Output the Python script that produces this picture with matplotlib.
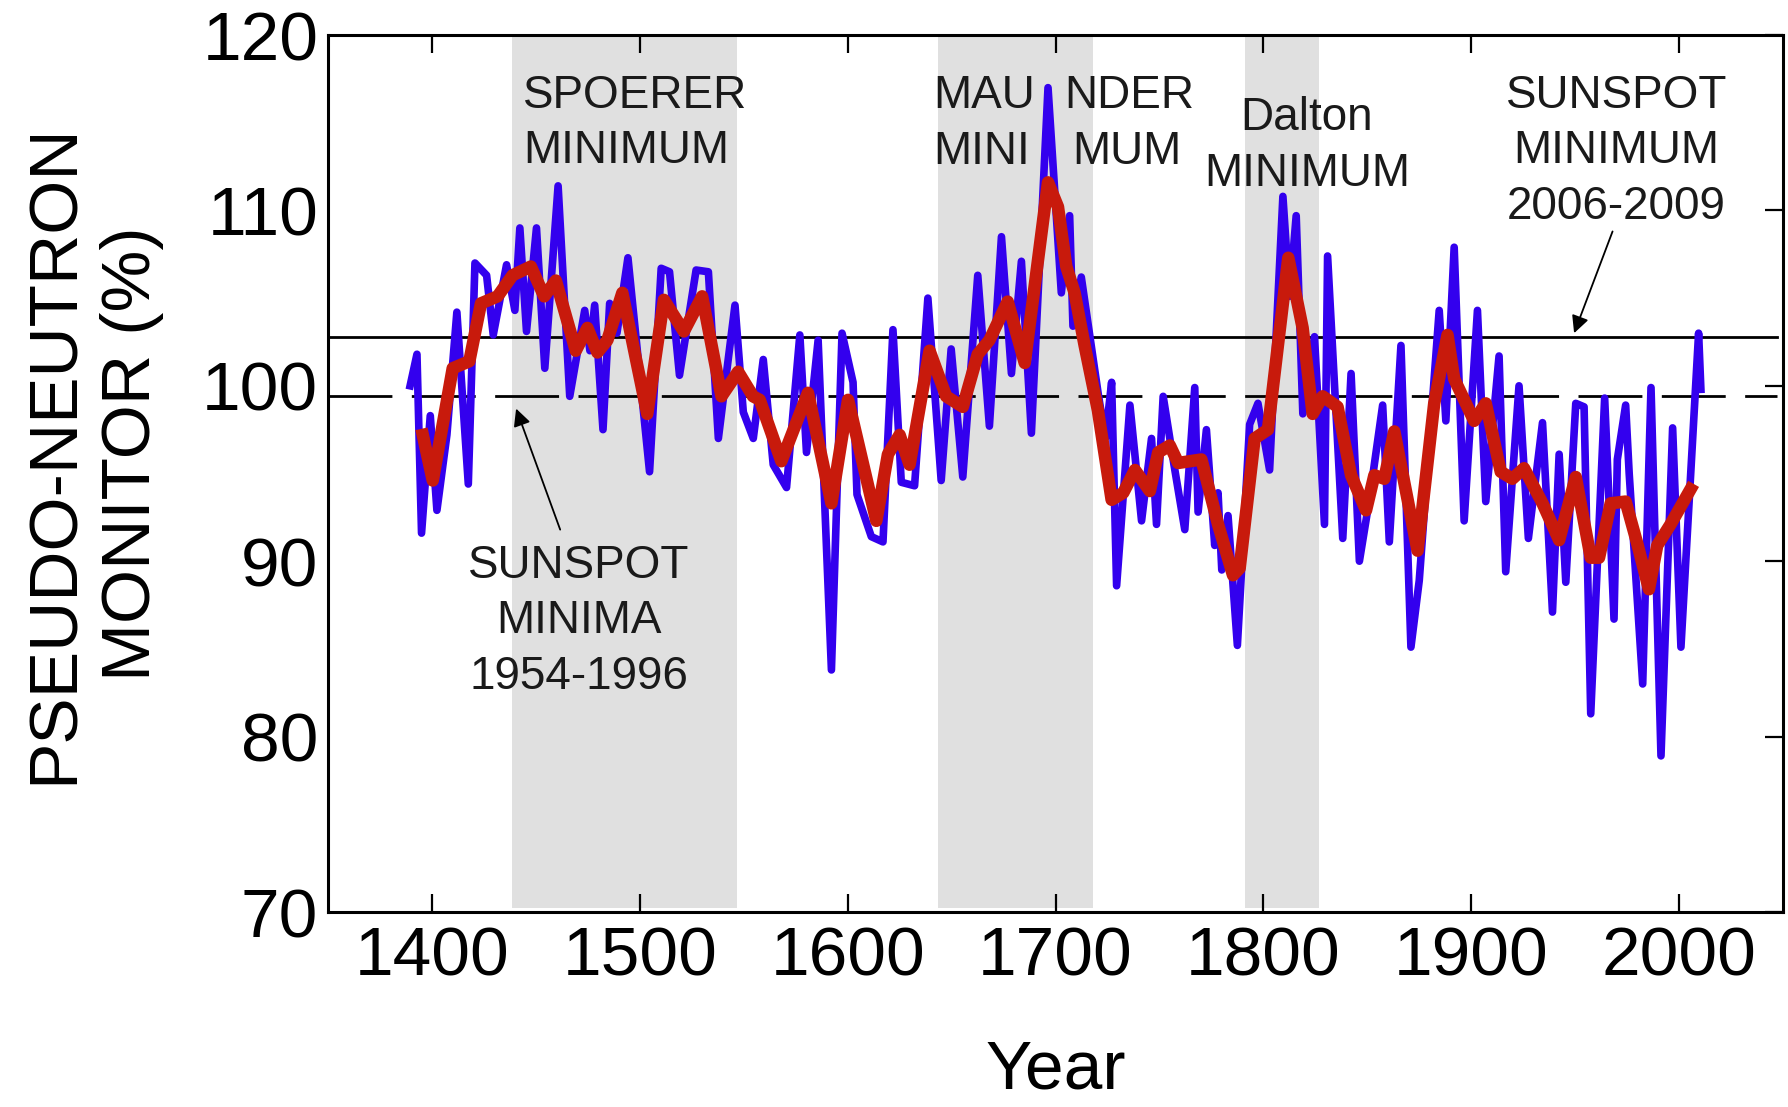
import matplotlib
matplotlib.use('Agg')
import matplotlib.pyplot as plt

plt.rcParams['font.family'] = ['Liberation Sans', 'DejaVu Sans']

# pseudo neutron monitor record (blue) and its smoothed version (red)
blue_year = [1389.5, 1392.8, 1395.0, 1399.2, 1402.4, 1407.2, 1412.0, 1417.5, 1420.7, 1426.3,
             1429.5, 1435.9, 1439.9, 1442.3, 1445.5, 1450.3, 1454.3, 1460.7, 1466.3, 1473.5,
             1476.0, 1478.3, 1482.3, 1485.5, 1489.0, 1494.3, 1504.7, 1510.3, 1514.3, 1519.1,
             1527.1, 1533.0, 1537.8, 1545.8, 1549.8, 1554.6, 1559.4, 1564.2, 1570.6, 1577.0,
             1580.2, 1585.8, 1592.2, 1597.3, 1602.6, 1604.5, 1611.4, 1617.0, 1621.8, 1625.8,
             1632.2, 1638.6, 1645.0, 1649.8, 1655.4, 1662.6, 1668.2, 1674.0, 1678.8, 1683.6,
             1688.4, 1696.4, 1702.8, 1706.8, 1708.4, 1712.4, 1720.6, 1724.0, 1727.0, 1729.4,
             1735.8, 1741.4, 1746.2, 1748.6, 1751.8, 1757.0, 1762.2, 1767.0, 1768.6, 1772.6,
             1776.6, 1778.2, 1780.0, 1783.0, 1787.5, 1793.4, 1797.4, 1803.0, 1809.4, 1812.6,
             1815.8, 1819.0, 1824.6, 1829.4, 1830.9, 1838.2, 1842.2, 1846.2, 1851.0, 1857.4,
             1860.6, 1866.2, 1871.0, 1875.0, 1884.6, 1887.8, 1891.8, 1896.6, 1903.0, 1907.0,
             1913.4, 1916.6, 1923.0, 1927.5, 1934.3, 1939.1, 1942.3, 1945.5, 1950.3, 1954.3,
             1957.5, 1964.2, 1968.7, 1970.3, 1974.3, 1976.0, 1982.5, 1986.5, 1991.3, 1996.9,
             2000.9, 2009.4, 2010.5]
blue_val = [100.0, 101.8, 91.6, 98.3, 92.9, 97.2, 104.2, 94.4, 107.0, 106.3,
            102.9, 106.9, 104.3, 109.0, 103.1, 109.0, 101.0, 111.4, 99.4, 104.3,
            102.0, 104.6, 97.5, 104.7, 103.0, 107.3, 95.1, 106.7, 106.5, 100.6,
            106.6, 106.5, 97.0, 104.6, 98.5, 97.0, 101.5, 95.5, 94.2, 102.9,
            96.2, 102.6, 83.8, 103.0, 100.2, 93.8, 91.4, 91.1, 103.2, 94.5,
            94.3, 105.0, 94.6, 102.1, 94.8, 106.3, 97.7, 108.5, 100.7, 107.1,
            97.3, 117.0, 105.3, 109.7, 103.4, 106.2, 99.5, 97.0, 100.2, 88.6,
            98.9, 92.3, 97.0, 92.1, 99.4, 95.5, 91.8, 99.9, 92.8, 97.5,
            90.9, 93.9, 89.5, 92.6, 85.2, 97.8, 99.0, 95.2, 110.8, 105.1,
            109.7, 98.4, 102.8, 92.1, 107.4, 91.3, 100.7, 90.0, 93.5, 98.9,
            91.1, 102.3, 85.1, 88.9, 104.3, 98.0, 107.9, 92.3, 104.3, 93.4,
            101.7, 89.4, 100.0, 91.3, 97.9, 87.1, 96.1, 88.8, 99.0, 98.8,
            81.3, 99.3, 86.7, 95.8, 98.9, 95.0, 83.0, 99.9, 78.9, 97.6,
            85.1, 103.0, 99.8]

red_year = [1395.6, 1400.4, 1410.0, 1418.0, 1423.6, 1431.6, 1438.8, 1447.6, 1454.0, 1459.6,
            1469.2, 1474.8, 1479.6, 1484.4, 1491.6, 1503.6, 1511.6, 1521.2, 1530.0, 1539.3,
            1547.3, 1554.5, 1557.7, 1568.1, 1580.9, 1592.2, 1600.2, 1613.8, 1619.4, 1625.0,
            1629.8, 1639.4, 1647.4, 1655.4, 1662.6, 1668.2, 1677.0, 1685.2, 1696.4, 1701.2,
            1705.2, 1709.2, 1714.0, 1720.4, 1727.0, 1732.6, 1738.2, 1745.4, 1749.4, 1755.0,
            1759.0, 1770.2, 1778.2, 1785.4, 1788.6, 1795.8, 1802.2, 1812.0, 1818.9, 1823.7,
            1828.5, 1835.7, 1842.2, 1849.4, 1853.4, 1858.2, 1863.0, 1874.2, 1882.2, 1888.6,
            1891.8, 1901.4, 1907.0, 1914.2, 1919.8, 1925.4, 1934.3, 1942.3, 1950.3, 1957.5,
            1961.5, 1967.1, 1974.3, 1979.9, 1985.5, 1989.5, 1995.9, 2005.5]
red_val = [97.2, 94.6, 101.0, 101.4, 104.7, 105.1, 106.3, 106.8, 105.1, 106.0,
           102.0, 103.3, 101.9, 102.6, 105.3, 98.4, 104.9, 103.1, 105.1, 99.4,
           100.8, 99.4, 99.2, 95.7, 99.6, 93.3, 99.2, 92.3, 96.1, 97.2,
           95.5, 102.0, 99.4, 98.8, 101.8, 102.6, 104.8, 101.3, 111.6, 110.2,
           106.8, 105.3, 102.3, 98.6, 93.5, 93.9, 95.2, 94.0, 96.2, 96.6,
           95.6, 95.8, 92.1, 89.2, 89.6, 97.0, 97.5, 107.3, 103.3, 98.4,
           99.4, 98.8, 94.9, 92.9, 94.9, 94.7, 97.4, 90.6, 99.0, 102.9,
           100.4, 98.0, 99.0, 95.1, 94.7, 95.3, 93.3, 91.2, 94.8, 90.2,
           90.2, 93.3, 93.4, 91.0, 88.4, 90.9, 92.1, 94.1]

# grand minima (start, end)
minima_spans = [(1438.5, 1547.0), (1643.6, 1718.0), (1791.0, 1826.6)]

level_2006_2009 = 102.8
level_1954_1996 = 99.4

fig = plt.figure(figsize=(17.88, 11.07), dpi=100)
ax = fig.add_axes([328 / 1788, 195 / 1107, 1455 / 1788, 877 / 1107])

for x0, x1 in minima_spans:
    ax.axvspan(x0, x1, ymin=0.005, ymax=1, color='#e0e0e0', lw=0, zorder=0)

ax.plot([1350, 2047], [level_2006_2009] * 2, color='black', lw=2.0, zorder=1)
ax.plot([1350, 2047], [level_1954_1996] * 2, color='black', lw=2.0, zorder=1,
        dashes=(23, 7), dash_capstyle='butt')

ax.plot(blue_year, blue_val, color='#3300ee', lw=5.5, zorder=2)
ax.plot(red_year, red_val, color='#c81a0c', lw=9.0, zorder=3)

ax.set_xlim(1350, 2050)
ax.set_ylim(70, 120)
ax.set_xticks(range(1400, 2001, 100))
ax.set_yticks(range(70, 121, 10))

ax.tick_params(axis='x', direction='in', length=13, width=1.6, top=True, bottom=True,
               labelsize=50, pad=10)
ax.tick_params(axis='y', direction='in', length=13, width=1.6, left=False, right=True,
               labelsize=50, pad=7)
for s in ax.spines.values():
    s.set_linewidth(2.2)

ax.set_xlabel('Year', fontsize=50, labelpad=35)
fig.text(93.5 / 1788, 1 - 454 / 1107, 'PSEUDO-NEUTRON\nMONITOR (%)', rotation=90,
         ha='center', va='center', fontsize=50, linespacing=1.25, multialignment='center')

txt = dict(fontsize=33, color='#1a1a1a', linespacing=1.34)
ax.text(1443.8, 117.8, 'SPOERER\nMINIMUM', ha='left', va='top', **txt)
ax.text(1641.0, 117.8, 'MAU', ha='left', va='top', **txt)
ax.text(1704.0, 117.8, 'NDER', ha='left', va='top', **txt)
ax.text(1641.0, 114.6, 'MINI', ha='left', va='top', **txt)
ax.text(1707.9, 114.6, 'MUM', ha='left', va='top', **txt)
ax.text(1820.9, 116.5, 'Dalton\nMINIMUM', ha='center', va='top', **txt)
ax.text(1969.8, 117.8, 'SUNSPOT\nMINIMUM\n2006-2009', ha='center', va='top', **txt)
ax.text(1470.7, 91.0, 'SUNSPOT\nMINIMA\n1954-1996', ha='center', va='top', **txt)

arrow = dict(arrowstyle='-|>', color='black', lw=1.3, mutation_scale=26, shrinkA=0, shrinkB=0)
ax.annotate('', xy=(1949.5, 103.0), xytext=(1968.0, 108.8), arrowprops=arrow, zorder=4)
ax.annotate('', xy=(1440.5, 98.7), xytext=(1461.7, 91.8), arrowprops=arrow, zorder=4)

fig.savefig('out.png', dpi=100)
